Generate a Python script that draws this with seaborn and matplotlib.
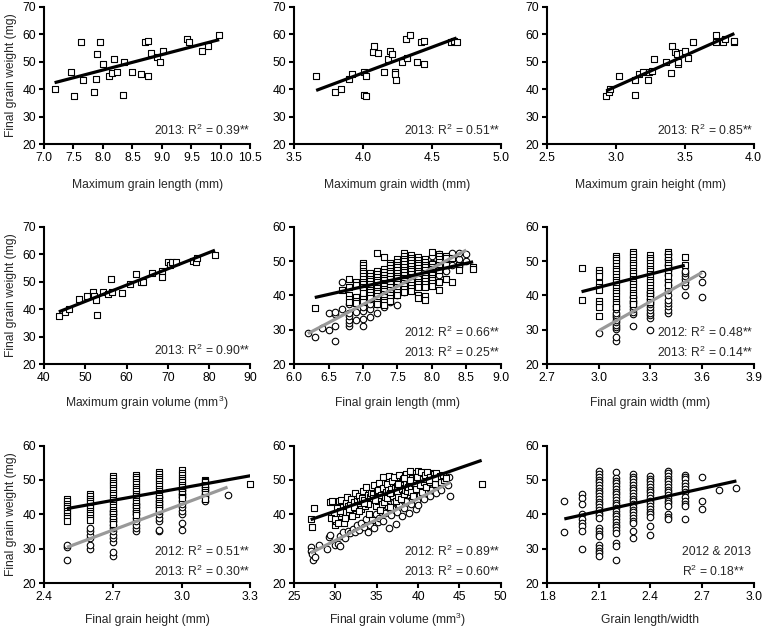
import numpy as np
import pandas as pd
import matplotlib
matplotlib.use("Agg")
import matplotlib.pyplot as plt
import seaborn as sns

# ---- data ----
# row 1 / first panel of row 2: 2013, maximum grain size vs final weight
mlen_x = [7.18, 7.45, 7.51, 7.63, 7.66, 7.84, 7.88, 7.90, 7.95, 8.00, 8.11, 8.15, 8.19, 8.23, 8.35,
          8.34, 8.50, 8.64, 8.71, 8.77, 8.77, 8.81, 8.92, 8.96, 9.02, 9.42, 9.46, 9.68, 9.78, 9.97]
mlen_y = [40.0, 46.3, 37.5, 57.3, 43.5, 39.0, 43.6, 52.8, 57.3, 49.2, 45.0, 45.8, 51.0, 46.4, 50.0,
          38.0, 46.4, 45.7, 57.2, 57.6, 44.9, 53.1, 51.7, 49.8, 53.9, 58.5, 57.2, 53.8, 55.9, 59.8]

mwid_x = [3.66, 3.80, 3.84, 3.90, 3.92, 4.01, 4.01, 4.02, 4.02, 4.07, 4.08, 4.11, 4.15, 4.18, 4.20,
          4.21, 4.23, 4.23, 4.24, 4.28, 4.31, 4.32, 4.34, 4.39, 4.42, 4.44, 4.44, 4.64, 4.66, 4.68]
mwid_y = [44.8, 39.0, 40.0, 43.6, 45.7, 46.4, 37.9, 37.5, 45.0, 53.6, 55.9, 53.2, 46.4, 51.0, 53.9,
          52.7, 46.4, 45.6, 43.4, 49.8, 58.5, 51.5, 59.8, 50.0, 57.2, 57.6, 49.2, 57.3, 57.5, 57.3]

mhgt_x = [2.93, 2.95, 2.96, 3.02, 3.14, 3.14, 3.17, 3.20, 3.23, 3.24, 3.26, 3.28, 3.36, 3.40, 3.41,
          3.43, 3.44, 3.45, 3.45, 3.48, 3.50, 3.52, 3.56, 3.73, 3.73, 3.78, 3.79, 3.86, 3.86]
mhgt_y = [37.5, 39.0, 40.0, 44.8, 43.5, 38.0, 45.5, 46.4, 43.4, 46.4, 46.5, 51.0, 49.8, 45.8, 55.9,
          53.6, 52.7, 49.3, 50.0, 53.3, 53.9, 51.5, 57.2, 59.8, 57.3, 57.2, 58.5, 57.3, 57.6]

mvol_x = [43.6, 45.0, 46.0, 48.5, 50.5, 51.8, 52.0, 52.6, 52.8, 54.3, 55.5, 56.3, 56.5, 59.0, 60.8,
          62.4, 63.5, 64.0, 66.2, 68.5, 68.7, 70.0, 70.5, 71.0, 72.0, 76.0, 76.8, 77.0, 81.4]
mvol_y = [37.5, 39.0, 40.0, 43.6, 44.8, 46.4, 44.9, 43.4, 38.0, 46.4, 45.6, 51.0, 46.3, 45.8, 49.2,
          52.8, 49.8, 50.0, 53.2, 53.9, 51.7, 57.3, 56.0, 57.3, 57.2, 57.6, 57.2, 58.5, 59.8]

# final grain size, 2012 (circles) and 2013 (squares); x value -> weights
len_2012 = {6.2: [29.1], 6.3: [27.8], 6.4: [30.4], 6.5: [30.0, 34.8], 6.6: [26.6, 31.2, 34.5, 35.2],
            6.7: [36.0, 44.0], 6.8: [31.0, 32.0, 33.0, 34.0, 35.0, 37.5], 6.9: [33.0, 35.2, 38.0, 39.2],
            7.0: [31.0, 33.2, 35.5, 36.5, 39.5, 40.5, 42.0], 7.1: [33.8, 36.0, 37.5, 39.0, 40.0, 41.5],
            7.2: [35.0, 37.5, 38.5, 40.0, 42.0, 44.0], 7.3: [36.5, 38.0, 40.0, 42.0, 44.0],
            7.4: [38.0, 40.0, 42.0, 44.0, 46.0], 7.5: [37.3, 40.0, 42.0, 44.0, 46.0, 48.0],
            7.6: [41.0, 43.0, 45.0, 47.0, 49.0], 7.7: [42.0, 44.0, 46.0, 48.0, 50.0],
            7.8: [43.0, 45.0, 47.0, 49.0, 51.0], 7.9: [44.0, 46.0, 48.0, 50.0],
            8.0: [45.5, 47.5, 49.5, 51.5], 8.1: [46.0, 48.0, 50.0, 52.0], 8.2: [47.0, 49.0, 51.0],
            8.3: [49.0, 51.0, 52.5], 8.4: [48.5, 50.5, 52.5], 8.5: [50.0, 52.0]}
len_2013 = {6.3: [36.3], 6.7: [41.7], 6.8: [44.8, 42.4, 40.0, 39.0, 38.0],
            6.9: [44.0, 43.0, 39.5, 38.5, 37.8],
            7.0: [49.5, 48.8, 48.0, 47.2, 46.4, 45.6, 44.8, 44.0, 43.2, 42.4, 41.6, 40.8, 39.0, 38.0],
            7.1: [46.5, 45.7, 44.9, 44.1, 43.3, 42.5, 41.7, 40.9, 40.1, 39.3],
            7.2: [52.5, 47.0, 46.2, 45.4, 44.6, 43.8, 43.0, 42.2, 41.4, 40.6, 39.8, 39.0, 38.2, 37.4],
            7.3: [51.3, 47.6, 46.8, 46.0, 45.2, 44.4, 43.6, 42.8, 42.0, 41.2, 40.4, 39.6, 38.8, 38.0, 37.2],
            7.4: [49.6, 48.8, 48.0, 47.2, 46.4, 45.6, 44.8, 44.0, 43.2, 42.4, 41.6, 40.8, 40.0, 39.2, 38.4],
            7.5: [50.6, 49.8, 49.0, 48.2, 47.4, 46.6, 45.8, 45.0, 44.2, 43.4, 42.6, 41.8, 41.0, 40.2],
            7.6: [52.3, 51.5, 50.7, 49.9, 49.1, 48.3, 47.5, 46.7, 45.9, 45.1, 44.3, 43.5, 42.7, 41.9, 41.1],
            7.7: [51.8, 51.0, 50.2, 49.4, 48.6, 47.8, 47.0, 46.2, 45.4, 44.6, 43.8, 43.0, 42.2, 41.4],
            7.8: [51.2, 50.4, 49.6, 48.8, 48.0, 47.2, 46.4, 45.6, 44.8, 44.0, 43.2, 42.4, 40.0, 39.4],
            7.9: [50.6, 49.8, 49.0, 48.2, 47.4, 46.6, 45.8, 45.0, 44.2, 43.4, 42.6, 39.8, 38.8],
            8.0: [52.6, 49.2, 48.4, 47.6, 46.8, 46.0, 45.2, 44.4, 43.6, 42.8],
            8.1: [52.2, 51.4, 50.6, 49.8, 49.0, 48.2, 47.4, 44.0, 41.5],
            8.2: [51.6, 50.8, 49.0, 44.8], 8.3: [51.0, 44.0], 8.4: [49.0, 47.5], 8.6: [48.2, 47.8]}

wid_2012 = {3.0: [29.2],
            3.1: [26.8, 27.8, 30.2, 30.8, 31.5, 32.2, 32.9, 33.6, 34.3, 35.0, 36.0, 37.0],
            3.2: [31.0, 34.5, 35.3, 36.1, 36.9, 37.7, 38.5, 39.5],
            3.3: [29.9, 33.4, 34.2, 35.0, 35.8, 36.6, 37.4, 38.2, 39.0, 40.0, 41.0],
            3.4: [34.8, 35.8, 36.8, 37.8, 38.6, 40.0, 41.5, 43.0, 44.5, 46.0, 47.5, 49.0, 50.5, 52.0],
            3.5: [40.0, 42.8, 43.8, 44.8, 45.6, 46.4, 47.2], 3.6: [39.5, 44.0, 46.2]}
wid_2013 = {2.9: [48.0, 38.6],
            3.0: [47.5, 46.6, 45.8, 43.5, 42.5, 41.5, 38.5, 37.5, 36.5, 34.0],
            3.1: [51.4, 51.0, 50.2, 49.4, 48.6, 47.8, 47.0, 46.2, 45.4, 44.6, 43.8, 43.0, 42.2, 41.4,
                  40.6, 39.8, 39.0, 38.2, 37.4, 36.6],
            3.2: [52.8, 52.0, 51.2, 50.4, 49.6, 48.8, 48.0, 47.2, 46.4, 45.6, 44.8, 44.0, 43.2, 42.4,
                  41.6, 40.8, 40.0, 39.2, 38.4, 37.6],
            3.3: [51.8, 51.0, 50.2, 49.4, 48.6, 47.8, 47.0, 46.2, 45.4, 44.6, 43.8, 43.0, 42.2, 41.4,
                  40.6, 39.8, 39.0, 38.2],
            3.4: [52.6, 52.0, 51.2, 50.4, 49.6, 48.8, 48.0, 47.2, 46.4, 45.6, 44.0, 43.0],
            3.5: [51.3, 49.0]}

hgt_2012 = {2.5: [26.7, 30.5, 31.2], 2.6: [30.0, 31.0, 33.0, 34.0, 35.0, 36.0],
            2.7: [28.0, 29.0, 31.8, 33.0, 34.0, 35.0, 36.0, 37.0, 38.0, 39.0, 40.0, 41.0],
            2.8: [35.0, 36.0, 37.0, 38.0, 39.0, 40.0, 41.0, 42.0, 43.0],
            2.9: [35.0, 35.3, 38.0, 39.0, 40.0, 41.0, 42.0, 43.0, 44.0, 45.0],
            3.0: [35.5, 37.5, 40.0, 41.0, 42.0, 43.0, 44.0, 45.0, 46.0, 47.0],
            3.1: [44.0, 45.0, 46.0, 47.0, 48.0, 49.0], 3.2: [45.5]}
hgt_2013 = {2.5: [44.5, 43.8, 43.1, 42.4, 41.7, 41.0, 40.3, 39.6, 38.9, 38.2],
            2.6: [46.0, 45.3, 44.6, 43.9, 43.2, 42.5, 41.8, 41.1, 40.4, 39.7, 39.0, 38.3],
            2.7: [51.2, 50.5, 49.8, 49.1, 48.4, 47.7, 47.0, 46.3, 45.6, 44.9, 44.2, 43.5, 42.8, 42.1,
                  41.4, 40.7, 40.0, 39.3, 38.6, 37.9, 37.2],
            2.8: [51.6, 50.9, 50.2, 49.5, 48.8, 48.1, 47.4, 46.7, 46.0, 45.3, 44.6, 43.9, 43.2, 42.5,
                  41.8, 41.1, 40.4, 39.7],
            2.9: [52.4, 51.7, 51.0, 50.3, 49.6, 48.9, 48.2, 47.5, 46.8, 46.1, 45.4, 44.7, 44.0, 43.3,
                  42.6, 41.9, 41.2],
            3.0: [52.8, 52.1, 51.4, 50.7, 50.0, 49.3, 48.6, 47.9, 47.2, 46.5, 45.8, 45.1, 44.8],
            3.1: [50.0, 49.6, 49.3, 48.6, 47.9, 47.2, 46.5, 45.8, 45.1, 44.4], 3.3: [48.7]}

vol_2012 = [(27.0, 30.5), (27.1, 29.4), (27.2, 28.4), (27.3, 26.7), (27.5, 27.7), (28.0, 31.2),
            (29.0, 29.9), (29.2, 33.3), (29.4, 33.9), (29.9, 31.0), (30.3, 31.4), (30.5, 30.9),
            (30.6, 33.8), (30.9, 34.8), (31.2, 33.2), (31.5, 35.0), (31.8, 34.5), (32.1, 35.6),
            (32.4, 34.9), (32.6, 36.8), (32.9, 35.3), (33.1, 37.4), (33.4, 36.2), (33.7, 38.6),
            (34.0, 34.8), (34.2, 37.0), (34.4, 39.3), (34.7, 36.0), (34.9, 40.2), (35.1, 37.8),
            (35.3, 39.0), (35.6, 41.2), (35.8, 38.0), (36.0, 40.5), (36.3, 42.3), (36.5, 35.9),
            (36.7, 39.7), (36.9, 41.8), (37.1, 43.5), (37.3, 37.3), (37.5, 40.8), (37.7, 42.7),
            (37.9, 44.6), (38.1, 39.6), (38.3, 41.9), (38.5, 43.8), (38.7, 45.6), (38.9, 40.4),
            (39.1, 42.9), (39.3, 44.6), (39.5, 46.4), (39.7, 41.5), (39.9, 43.8), (40.0, 42.8),
            (40.2, 45.6), (40.4, 47.3), (40.7, 44.5), (40.9, 46.2), (41.1, 48.2), (41.4, 45.3),
            (41.6, 47.0), (41.9, 49.0), (42.2, 46.3), (42.5, 48.1), (42.8, 47.2), (43.2, 49.3),
            (43.6, 48.6), (43.8, 50.8), (43.9, 45.4)]
vol_2013 = [(27.0, 38.5), (27.2, 36.3), (27.4, 41.7), (29.3, 43.6), (29.6, 44.0), (29.8, 40.2),
            (30.0, 36.8), (30.1, 38.0), (30.2, 41.8), (30.4, 43.9), (30.6, 39.5), (30.7, 44.3),
            (30.8, 40.5), (30.9, 42.0), (31.0, 37.4), (31.1, 40.8), (31.3, 43.2), (31.4, 45.1),
            (31.5, 42.3), (31.6, 39.9), (31.8, 42.6), (31.9, 44.6), (32.1, 41.2), (32.2, 43.7),
            (32.4, 46.3), (32.5, 40.0), (32.6, 44.0), (32.7, 42.8), (32.8, 45.2), (33.0, 43.9),
            (33.1, 41.5), (33.2, 44.8), (33.3, 46.8), (33.4, 44.3), (33.6, 42.4), (33.7, 47.9),
            (33.9, 45.5), (34.0, 43.1), (34.1, 40.1), (34.2, 45.0), (34.3, 46.2), (34.4, 38.4),
            (34.5, 45.8), (34.6, 44.7), (34.7, 48.6), (34.9, 42.5), (35.0, 46.9), (35.1, 44.0),
            (35.2, 47.2), (35.3, 49.2), (35.4, 41.3), (35.5, 45.6), (35.6, 43.0), (35.7, 47.7),
            (35.8, 50.9), (35.9, 43.5), (36.0, 45.0), (36.1, 46.4), (36.2, 48.9), (36.3, 44.8),
            (36.4, 47.0), (36.5, 51.1), (36.6, 42.2), (36.7, 47.3), (36.8, 46.0), (36.9, 49.8),
            (37.0, 45.4), (37.1, 50.8), (37.2, 47.8), (37.3, 43.9), (37.4, 48.3), (37.5, 46.6),
            (37.6, 45.0), (37.7, 51.4), (37.8, 49.1), (37.9, 44.6), (38.0, 49.5), (38.1, 47.5),
            (38.2, 50.3), (38.3, 45.9), (38.4, 47.0), (38.5, 48.7), (38.6, 51.7), (38.7, 46.9),
            (38.8, 48.0), (38.9, 49.6), (39.0, 52.5), (39.1, 47.9), (39.2, 46.5), (39.3, 50.7),
            (39.4, 45.2), (39.5, 49.0), (39.6, 48.5), (39.7, 51.9), (39.8, 47.4), (40.0, 52.6),
            (40.1, 50.2), (40.2, 48.4), (40.4, 51.3), (40.5, 46.6), (40.7, 49.5), (40.9, 52.1),
            (41.0, 48.1), (41.2, 51.0), (41.4, 49.3), (41.6, 52.0), (41.8, 50.1), (42.1, 48.8),
            (42.4, 50.6), (42.8, 49.4), (43.2, 49.9), (47.7, 48.7),
            # extra points inside the dense cloud
            (29.5, 39.0), (29.9, 38.6), (30.3, 37.6), (30.5, 40.9), (31.2, 38.9), (31.7, 41.5),
            (32.0, 39.6), (32.3, 42.0), (32.9, 41.0), (33.5, 43.4), (34.8, 44.2), (36.6, 46.3),
            (37.6, 48.9), (38.3, 50.6), (39.0, 50.0), (39.9, 50.8), (40.3, 52.3), (40.6, 50.4),
            (40.8, 51.6), (41.1, 52.4), (41.5, 50.8), (41.9, 51.7), (42.2, 52.0), (42.6, 51.2),
            (43.0, 51.4), (43.4, 50.6), (42.0, 50.5), (41.3, 49.9)]

# length/width ratio, both years pooled
lw_all = {1.9: [44.0, 34.8],
          2.0: [46.0, 44.8, 43.0, 40.0, 38.5, 37.5, 36.5, 35.0, 30.0],
          2.1: [52.5, 51.7, 50.9, 50.1, 49.3, 48.5, 47.7, 46.9, 46.1, 45.3, 44.5, 43.7, 42.9, 42.1,
                41.3, 40.5, 39.7, 38.9, 36.0, 35.2, 34.4, 33.6, 31.0, 30.2, 29.4, 28.6, 27.8],
          2.2: [52.2, 50.6, 49.8, 49.0, 48.2, 47.4, 46.6, 45.8, 45.0, 44.2, 43.4, 42.6, 41.8, 41.0,
                40.2, 39.4, 38.6, 37.8, 37.0, 36.2, 35.4, 34.6, 31.6, 30.8, 26.7],
          2.3: [51.8, 51.0, 50.2, 49.4, 48.6, 47.8, 47.0, 46.2, 45.4, 44.6, 43.8, 43.0, 42.2, 41.4,
                40.6, 39.8, 39.0, 38.2, 37.4, 35.0, 33.0],
          2.4: [51.2, 50.4, 49.6, 48.8, 48.0, 47.2, 46.4, 45.6, 44.8, 44.0, 43.2, 42.4, 41.6, 40.8,
                40.0, 39.2, 36.7, 34.0],
          2.5: [52.7, 52.0, 51.2, 50.4, 49.6, 48.8, 48.0, 47.2, 46.4, 45.6, 44.8, 44.0, 43.2, 42.4,
                40.0, 39.2, 38.5],
          2.6: [51.5, 51.0, 50.2, 49.0, 48.2, 47.5, 46.5, 45.0, 44.0, 43.0, 42.5, 38.5],
          2.7: [51.0, 43.8, 41.5], 2.8: [47.2], 2.9: [47.8]}


def from_cols(cols):
    xs, ys = [], []
    for x, vals in cols.items():
        xs += [x] * len(vals)
        ys += vals
    return pd.DataFrame({"x": xs, "y": ys})


def from_pairs(pairs):
    return pd.DataFrame(pairs, columns=["x", "y"])


def from_xy(x, y):
    return pd.DataFrame({"x": x, "y": y})


sns.set_style("ticks")
plt.rcParams["font.family"] = ["Liberation Sans", "DejaVu Sans"]
plt.rcParams["mathtext.fontset"] = "custom"
plt.rcParams["mathtext.rm"] = "Liberation Sans"
plt.rcParams["mathtext.it"] = "Liberation Sans:italic"
plt.rcParams["mathtext.bf"] = "Liberation Sans:bold"
FS = 8.7

panels = [
    # (x label, x ticks, y max, 2013 data, 2012 data, texts)
    ("Maximum grain length (mm)", [7.0, 7.5, 8.0, 8.5, 9.0, 9.5, 10.0, 10.5], 70,
     from_xy(mlen_x, mlen_y), None, ["2013: R$^2$ = 0.39**"]),
    ("Maximum grain width (mm)", [3.5, 4.0, 4.5, 5.0], 70,
     from_xy(mwid_x, mwid_y), None, ["2013: R$^2$ = 0.51**"]),
    ("Maximum grain height (mm)", [2.5, 3.0, 3.5, 4.0], 70,
     from_xy(mhgt_x, mhgt_y), None, ["2013: R$^2$ = 0.85**"]),
    ("Maximum grain volume (mm$^3$)", [40, 50, 60, 70, 80, 90], 70,
     from_xy(mvol_x, mvol_y), None, ["2013: R$^2$ = 0.90**"]),
    ("Final grain length (mm)", [6.0, 6.5, 7.0, 7.5, 8.0, 8.5, 9.0], 60,
     from_cols(len_2013), from_cols(len_2012), ["2012: R$^2$ = 0.66**", "2013: R$^2$ = 0.25**"]),
    ("Final grain width (mm)", [2.7, 3.0, 3.3, 3.6, 3.9], 60,
     from_cols(wid_2013), from_cols(wid_2012), ["2012: R$^2$ = 0.48**", "2013: R$^2$ = 0.14**"]),
    ("Final grain height (mm)", [2.4, 2.7, 3.0, 3.3], 60,
     from_cols(hgt_2013), from_cols(hgt_2012), ["2012: R$^2$ = 0.51**", "2013: R$^2$ = 0.30**"]),
    ("Final grain volume (mm$^3$)", [25, 30, 35, 40, 45, 50], 60,
     from_pairs(vol_2013), from_pairs(vol_2012), ["2012: R$^2$ = 0.89**", "2013: R$^2$ = 0.60**"]),
    ("Grain length/width", [1.8, 2.1, 2.4, 2.7, 3.0], 60,
     None, from_cols(lw_all), ["2012 & 2013", "R$^2$ = 0.18**"]),
]

fig = plt.figure(figsize=(7.62, 6.30), dpi=100)
lefts = [0.0577, 0.386, 0.718]
bottoms = [0.771, 0.422, 0.0746]
label_y = [-0.30, -0.285, -0.27]
W, H = 0.271, 0.218

for i, (xlab, xt, ymax, d13, d12, texts) in enumerate(panels):
    r, c = divmod(i, 3)
    ax = fig.add_axes([lefts[c], bottoms[r], W, H])

    if d12 is not None:
        sns.scatterplot(data=d12, x="x", y="y", marker="o", s=22, color="white",
                        edgecolor="black", linewidth=0.8, ax=ax, clip_on=False, zorder=2)
    if d13 is not None:
        sns.scatterplot(data=d13, x="x", y="y", marker="s", s=23, color="white",
                        edgecolor="black", linewidth=0.8, ax=ax, clip_on=False, zorder=3)
    if d12 is not None:
        line_col = "#999999" if d13 is not None else "black"
        sns.regplot(data=d12, x="x", y="y", scatter=False, ci=None, color=line_col,
                    line_kws={"lw": 2.3, "zorder": 4, "solid_capstyle": "butt"}, ax=ax)
    if d13 is not None:
        sns.regplot(data=d13, x="x", y="y", scatter=False, ci=None, color="black",
                    line_kws={"lw": 2.3, "zorder": 5, "solid_capstyle": "butt"}, ax=ax)

    ax.set_xlim(xt[0], xt[-1])
    ax.set_ylim(20, ymax)
    ax.set_xticks(xt)
    if isinstance(xt[0], int):
        ax.set_xticklabels([str(t) for t in xt])
    else:
        ax.set_xticklabels([f"{t:.1f}" for t in xt])
    ax.set_yticks(list(range(20, ymax + 1, 10)))
    sns.despine(ax=ax)
    for s in ("left", "bottom"):
        ax.spines[s].set_linewidth(1.5)
        ax.spines[s].set_color("black")
    ax.tick_params(direction="out", length=3.5, width=1.5, colors="black",
                   labelsize=FS, pad=2)
    ax.set_xlabel(xlab, fontsize=FS, va="center")
    ax.xaxis.set_label_coords(0.5, label_y[r])
    if c == 0:
        ax.set_ylabel("Final grain weight (mg)", fontsize=FS, labelpad=4)
    else:
        ax.set_ylabel("")

    if len(texts) == 1:
        ax.text(1.0, 0.10, texts[0], transform=ax.transAxes, ha="right", va="center", fontsize=FS)
    elif i == 8:
        ax.text(0.655, 0.225, texts[0], transform=ax.transAxes, ha="left", va="center", fontsize=FS)
        ax.text(0.655, 0.085, texts[1], transform=ax.transAxes, ha="left", va="center", fontsize=FS)
    else:
        ax.text(1.0, 0.23, texts[0], transform=ax.transAxes, ha="right", va="center", fontsize=FS)
        ax.text(1.0, 0.087, texts[1], transform=ax.transAxes, ha="right", va="center", fontsize=FS)

fig.savefig("out.png", dpi=100)
